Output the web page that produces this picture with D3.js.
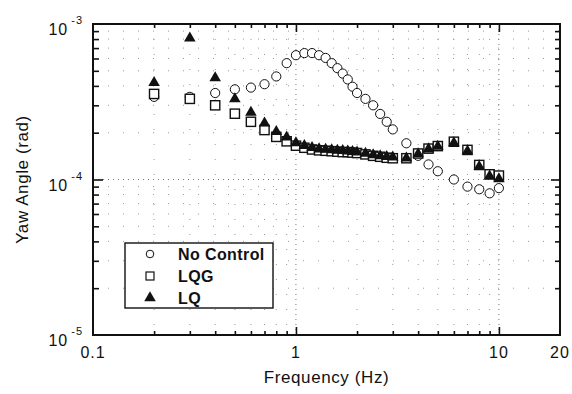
<!DOCTYPE html>
<html>
<head>
<meta charset="utf-8">
<script src="https://cdn.jsdelivr.net/npm/d3@7"></script>
<style>
  body { margin: 0; background: #fff; }
  text { font-family: "Liberation Sans", Arial, Helvetica, sans-serif; fill: #111; }
</style>
</head>
<body>
<svg id="chart"></svg>
<script>
/////////////// data ///////////////
// frequencies (Hz) of the measured points
const freqs = [0.2, 0.3, 0.4, 0.5, 0.6, 0.7, 0.8, 0.9, 1.0,
  1.1, 1.2, 1.3, 1.4, 1.5, 1.6, 1.7, 1.8, 1.9, 2.0,
  2.2, 2.4, 2.6, 2.8, 3.0, 3.5, 4.0, 4.5, 5.0, 6.0, 7.0, 8.0, 9.0, 10];

// yaw angle (rad)
const noControl = [3.4e-4, 3.4e-4, 3.6e-4, 3.8e-4, 3.9e-4, 4.1e-4, 4.6e-4, 5.6e-4, 6.3e-4,
  6.5e-4, 6.5e-4, 6.3e-4, 6.05e-4, 5.6e-4, 5.2e-4, 4.8e-4, 4.4e-4, 3.95e-4, 3.6e-4,
  3.3e-4, 3.0e-4, 2.64e-4, 2.35e-4, 2.1e-4, 1.71e-4, 1.42e-4, 1.25e-4, 1.13e-4, 1.0e-4,
  9.0e-5, 8.65e-5, 8.15e-5, 8.8e-5];
const lqg = [3.55e-4, 3.3e-4, 3.0e-4, 2.65e-4, 2.35e-4, 2.08e-4, 1.88e-4, 1.76e-4, 1.65e-4,
  1.6e-4, 1.56e-4, 1.54e-4, 1.53e-4, 1.52e-4, 1.51e-4, 1.5e-4, 1.5e-4, 1.49e-4, 1.48e-4,
  1.45e-4, 1.42e-4, 1.4e-4, 1.38e-4, 1.37e-4, 1.37e-4, 1.47e-4, 1.58e-4, 1.64e-4, 1.75e-4,
  1.55e-4, 1.24e-4, 1.08e-4, 1.06e-4];
const lq = [4.2e-4, 8.1e-4, 4.5e-4, 3.3e-4, 2.7e-4, 2.3e-4, 2.03e-4, 1.87e-4, 1.72e-4,
  1.65e-4, 1.6e-4, 1.57e-4, 1.56e-4, 1.55e-4, 1.54e-4, 1.53e-4, 1.52e-4, 1.51e-4, 1.5e-4,
  1.47e-4, 1.44e-4, 1.42e-4, 1.4e-4, 1.39e-4, 1.37e-4, 1.46e-4, 1.57e-4, 1.63e-4, 1.72e-4,
  1.52e-4, 1.21e-4, 1.05e-4, 1.01e-4];

const seriesNames = ["No Control", "LQG", "LQ"];
const xTickLabels = ["0.1", "1", "10", "20"];
const xTickValues = [0.1, 1, 10, 20];
const yTickExps = [-3, -4, -5];

/////////////// layout ///////////////
const width = 572, height = 394;
const margin = { top: 24, right: 12, bottom: 59, left: 93 };

const svg = d3.select("#chart").attr("width", width).attr("height", height);

const x = d3.scaleLog().domain([0.1, 20]).range([margin.left, width - margin.right]);
const y = d3.scaleLog().domain([1e-5, 1e-3]).range([height - margin.bottom, margin.top]);

const x0 = x.range()[0], x1 = x.range()[1], y0 = y.range()[0], y1 = y.range()[1];

// minor / major tick positions
const xMinor = [], yMinor = [];
for (const dec of [0.1, 1, 10]) for (let k = 2; k <= 9; k++) { const v = dec * k; if (v < 20) xMinor.push(v); }
for (const dec of [1e-5, 1e-4]) for (let k = 2; k <= 9; k++) yMinor.push(dec * k);
const xMajor = [1, 10];
const yMajor = [1e-4];

/////////////// grid (sparse dots) ///////////////
const grid = svg.append("g");
grid.selectAll(".gx").data(xMinor).join("line")
  .attr("x1", d => x(d)).attr("x2", d => x(d)).attr("y1", y1).attr("y2", y0)
  .attr("stroke", "#999").attr("stroke-width", 1).attr("stroke-dasharray", "1,14");
grid.selectAll(".gy").data(yMinor).join("line")
  .attr("y1", d => y(d)).attr("y2", d => y(d)).attr("x1", x0).attr("x2", x1)
  .attr("stroke", "#999").attr("stroke-width", 1).attr("stroke-dasharray", "1,14");
grid.selectAll(".gxM").data(xMajor).join("line")
  .attr("x1", d => x(d)).attr("x2", d => x(d)).attr("y1", y1).attr("y2", y0)
  .attr("stroke", "#777").attr("stroke-width", 1).attr("stroke-dasharray", "1,4");
grid.selectAll(".gyM").data(yMajor).join("line")
  .attr("y1", d => y(d)).attr("y2", d => y(d)).attr("x1", x0).attr("x2", x1)
  .attr("stroke", "#777").attr("stroke-width", 1).attr("stroke-dasharray", "1,4");

/////////////// axes (ticks inward on all four sides) ///////////////
function tickAxis(axisFn, scale, values, len, transform) {
  svg.append("g")
    .attr("transform", transform)
    .call(axisFn(scale).tickValues(values).tickSize(-len).tickFormat(""))
    .call(g => g.select(".domain").remove())
    .call(g => g.selectAll(".tick line").attr("stroke", "#111").attr("stroke-width", 1.6));
}
tickAxis(d3.axisBottom, x, xMinor, 4, `translate(0,${y0})`);
tickAxis(d3.axisBottom, x, xMajor, 8, `translate(0,${y0})`);
tickAxis(d3.axisTop, x, xMinor, 4, `translate(0,${y1})`);
tickAxis(d3.axisTop, x, xMajor, 8, `translate(0,${y1})`);
tickAxis(d3.axisLeft, y, yMinor, 6, `translate(${x0},0)`);
tickAxis(d3.axisLeft, y, yMajor, 10, `translate(${x0},0)`);
tickAxis(d3.axisRight, y, yMinor, 5, `translate(${x1},0)`);
tickAxis(d3.axisRight, y, yMajor, 9, `translate(${x1},0)`);

// frame
svg.append("rect")
  .attr("x", x0).attr("y", y1).attr("width", x1 - x0).attr("height", y0 - y1)
  .attr("fill", "none").attr("stroke", "#111").attr("stroke-width", 2);

// x tick labels
svg.append("g").selectAll("text").data(xTickValues).join("text")
  .attr("x", d => x(d)).attr("y", y0 + 23)
  .attr("text-anchor", "middle").attr("font-size", 16).attr("letter-spacing", 1)
  .text((d, i) => xTickLabels[i]);

// y tick labels: 10 with superscript exponent
const yLab = svg.append("g").selectAll("text").data(yTickExps).join("text")
  .attr("x", x0 - 10).attr("y", d => y(Math.pow(10, d)) + 11)
  .attr("text-anchor", "end").attr("font-size", 16).attr("letter-spacing", 1);
yLab.append("tspan").text("10");
yLab.append("tspan").attr("dy", -11).attr("dx", 3).attr("font-size", 11).text(d => "-" + Math.abs(d));

// axis titles
svg.append("text")
  .attr("x", (x0 + x1) / 2).attr("y", 383)
  .attr("text-anchor", "middle").attr("font-size", 17).attr("letter-spacing", 0.6)
  .text("Frequency (Hz)");
svg.append("text")
  .attr("transform", `translate(28,${(y0 + y1) / 2}) rotate(-90)`)
  .attr("text-anchor", "middle").attr("font-size", 17).attr("letter-spacing", 0.6)
  .text("Yaw Angle (rad)");

/////////////// markers ///////////////
const triangle = d3.symbol().type(d3.symbolTriangle).size(58);
const marks = svg.append("g");

marks.selectAll(".nc").data(freqs).join("circle")
  .attr("cx", d => x(d)).attr("cy", (d, i) => y(noControl[i])).attr("r", 4.6)
  .attr("fill", "#fff").attr("stroke", "#111").attr("stroke-width", 1);

marks.selectAll(".lqg").data(freqs).join("rect")
  .attr("x", d => x(d) - 4.6).attr("y", (d, i) => y(lqg[i]) - 4.6)
  .attr("width", 9.2).attr("height", 9.2)
  .attr("fill", "#fff").attr("stroke", "#111").attr("stroke-width", 1.4);

marks.selectAll(".lq").data(freqs).join("path")
  .attr("transform", (d, i) => `translate(${x(d)},${y(lq[i])})`)
  .attr("d", triangle).attr("fill", "#111");

/////////////// legend ///////////////
const legend = svg.append("g").attr("transform", "translate(125,243)");
legend.append("rect").attr("width", 148).attr("height", 65)
  .attr("fill", "#fff").attr("stroke", "#111").attr("stroke-width", 1.4);
const rows = legend.selectAll("g").data(seriesNames).join("g")
  .attr("transform", (d, i) => `translate(0,${11 + i * 22})`);
rows.filter((d, i) => i === 0).append("circle")
  .attr("cx", 25).attr("cy", 0).attr("r", 3.8).attr("fill", "#fff").attr("stroke", "#111").attr("stroke-width", 1);
rows.filter((d, i) => i === 1).append("rect")
  .attr("x", 21).attr("y", -4).attr("width", 8).attr("height", 8)
  .attr("fill", "#fff").attr("stroke", "#111").attr("stroke-width", 1.2);
rows.filter((d, i) => i === 2).append("path")
  .attr("transform", "translate(25,0)").attr("d", triangle).attr("fill", "#111");
rows.append("text").attr("x", 53).attr("y", 6)
  .attr("font-size", 16).attr("font-weight", "bold").attr("letter-spacing", 0.4)
  .text(d => d);
</script>
</body>
</html>
